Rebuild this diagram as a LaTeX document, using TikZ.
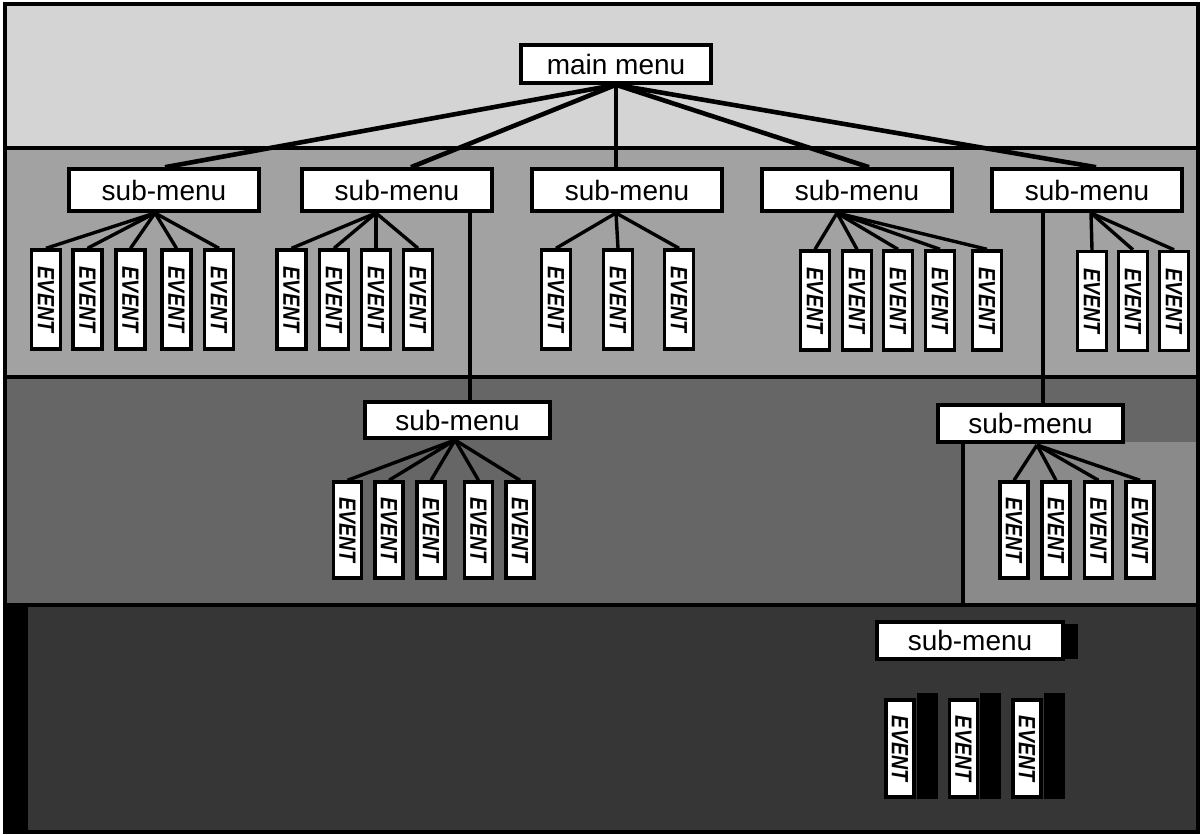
\documentclass[tikz,border=0pt]{standalone}
\usepackage{fontspec}
\setmainfont{Liberation Sans}
\newfontfamily\evfont[FakeStretch=0.83]{Liberation Sans}
\usepackage{graphicx}
\usetikzlibrary{calc}
\definecolor{bandA}{HTML}{D4D4D4}
\definecolor{bandB}{HTML}{A2A2A2}
\definecolor{bandC}{HTML}{666666}
\definecolor{bandCr}{HTML}{8A8A8A}
\definecolor{bandD}{HTML}{363636}
\begin{document}
\begin{tikzpicture}[x=1pt,y=-1pt,
  menubox/.style={draw=black, line width=3.6pt, fill=white, minimum width=190pt,
    minimum height=40pt, inner sep=0pt, font=\fontsize{28}{30}\selectfont},
  evbox/.style={draw=black, line width=3.4pt, fill=white, minimum width=29pt,
    minimum height=99pt, inner sep=0pt,
    font=\evfont\fontsize{23.5}{24}\selectfont\bfseries\itshape},
  mline/.style={line width=4.6pt},
  eline/.style={line width=3.4pt},
  bandline/.style={line width=3.4pt}]
\useasboundingbox (0,0) rectangle (1202,835);
% bands
\fill[bandA] (5,4) rectangle (1198,148);
\fill[bandB] (5,148) rectangle (1198,377);
\fill[bandC] (5,377) rectangle (1198,605);
\fill[bandCr] (963,442) rectangle (1198,605);
\fill[bandD] (5,605) rectangle (1198,832);
\fill[black] (5,605) rectangle (28,832);
\draw[bandline] (5,148) -- (1198,148);
\draw[bandline] (5,377) -- (1198,377);
\draw[bandline] (5,605) -- (1198,605);
\draw[line width=3.4pt] (5,4) rectangle (1198,832);

% main menu
\node[menubox, minimum height=38pt] (main) at (616,64) {main menu};

% level 1 sub-menus
\node[menubox, minimum height=42pt] (sm1) at (164,190) {sub-menu};
\node[menubox, minimum height=42pt] (sm2) at (397,190) {sub-menu};
\node[menubox, minimum height=42pt] (sm3) at (627,190) {sub-menu};
\node[menubox, minimum height=42pt] (sm4) at (857,190) {sub-menu};
\node[menubox, minimum height=42pt] (sm5) at (1087,190) {sub-menu};

\draw[mline] (main.south) -- ($(sm1.north)+(1,0)$);
\draw[mline] (main.south) -- ($(sm2.north)+(14,0)$);
\draw[mline] (main.south) -- (main.south |- sm3.north);
\draw[mline] (main.south) -- ($(sm4.north)+(12,0)$);
\draw[mline] (main.south) -- ($(sm5.north)+(9,0)$);

% events of sub-menu 1
\foreach \n/\x in {1/46,2/87.5,3/130.5,4/176.5,5/219}
  \node[evbox] (a\n) at (\x,299.5) {\rotatebox{-90}{EVENT}};
\coordinate (s1) at (155,213);
\foreach \n in {1,...,5} \draw[eline] (s1) -- (a\n.north);

% events of sub-menu 2
\foreach \n/\x in {1/291.5,2/334,3/376,4/418}
  \node[evbox] (b\n) at (\x,299.5) {\rotatebox{-90}{EVENT}};
\coordinate (s2) at (376,213);
\foreach \n in {1,...,4} \draw[eline] (s2) -- (b\n.north);

% events of sub-menu 3
\foreach \n/\x in {1/556,2/618,3/679}
  \node[evbox] (c\n) at (\x,299.5) {\rotatebox{-90}{EVENT}};
\coordinate (s3) at (616,213);
\foreach \n in {1,...,3} \draw[eline] (s3) -- (c\n.north);

% events of sub-menu 4
\foreach \n/\x in {1/815,2/857,3/898,4/940,5/987}
  \node[evbox] (d\n) at (\x,300.5) {\rotatebox{-90}{EVENT}};
\coordinate (s4) at (837,213);
\foreach \n in {1,...,5} \draw[eline] (s4) -- (d\n.north);

% events of sub-menu 5
\foreach \n/\x in {1/1092,2/1133,3/1174}
  \node[evbox] (e\n) at (\x,301) {\rotatebox{-90}{EVENT}};
\coordinate (s5) at (1091,213);
\foreach \n in {1,...,3} \draw[eline] (s5) -- (e\n.north);

% level 2 sub-menus
\node[menubox, minimum width=185pt, minimum height=36pt] (smA) at (457.5,420) {sub-menu};
\node[menubox, minimum width=185pt, minimum height=37pt] (smB) at (1030.5,423.5) {sub-menu};

\coordinate (v1) at (470,0);
\coordinate (v2) at (1043,0);
\coordinate (v3) at (963,0);
\coordinate (v3end) at (963,605);
\draw[bandline] (sm2.south -| v1) -- (smA.north -| v1);
\draw[bandline] (sm5.south -| v2) -- (smB.north -| v2);
\draw[bandline] (smB.south -| v3) -- (v3end);

% events of sub-menu A
\foreach \n/\x in {1/347.5,2/389,3/431,4/478.5,5/520}
  \node[evbox, minimum width=28pt, minimum height=96pt] (f\n) at (\x,530) {\rotatebox{-90}{EVENT}};
\coordinate (sA) at (455,440);
\foreach \n in {1,...,5} \draw[eline] (sA) -- (f\n.north);

% events of sub-menu B
\foreach \n/\x in {1/1014,2/1056,3/1098.5,4/1140}
  \node[evbox, minimum width=28pt, minimum height=96pt] (g\n) at (\x,530) {\rotatebox{-90}{EVENT}};
\coordinate (sB) at (1037,445);
\foreach \n in {1,...,4} \draw[eline] (sB) -- (g\n.north);

% level 3 sub-menu (bottom band)
\fill[black] (1060,624) rectangle (1078,659);
\node[menubox, minimum width=186pt, minimum height=37pt] (smC) at (970,640.5) {sub-menu};
\foreach \n/\x in {1/900,2/963.5,3/1027}
  \node[evbox, minimum width=28pt, minimum height=97pt] (h\n) at (\x,748.5) {\rotatebox{-90}{EVENT}};
\foreach \n in {1,...,3}
  \fill[black] ($(h\n.north east)+(1,-5)$) rectangle ($(h\n.south east)+(22,0)$);
\end{tikzpicture}
\end{document}
